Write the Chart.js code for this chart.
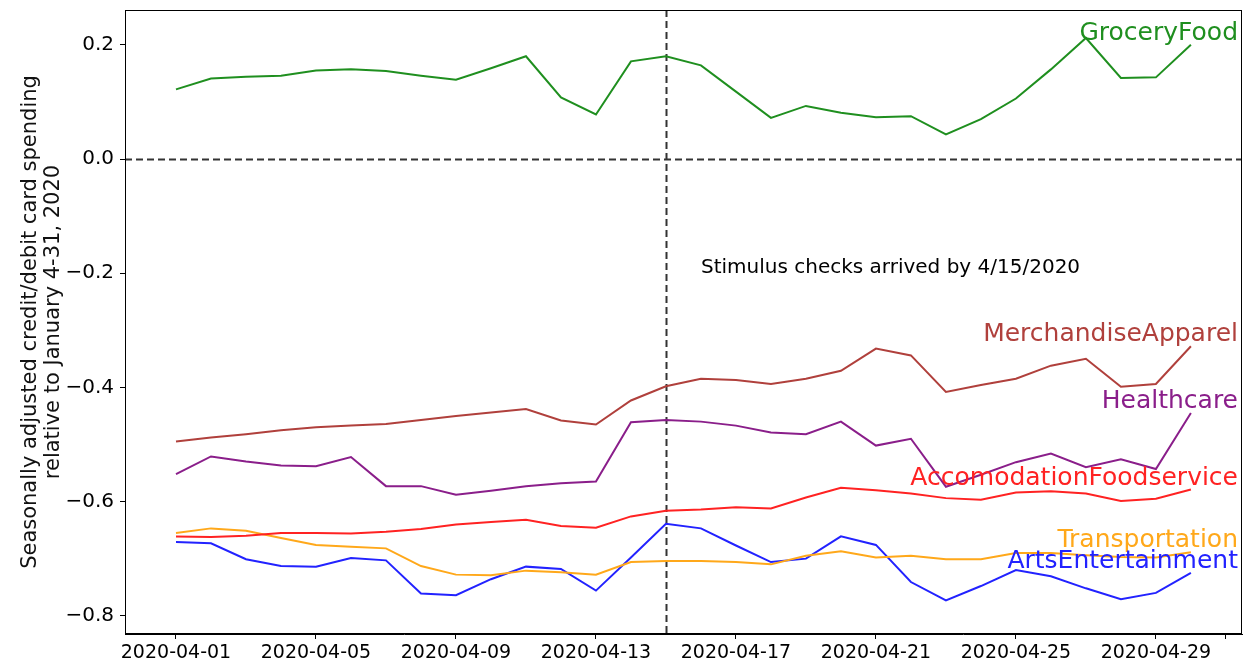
<!DOCTYPE html>
<html>
<head>
<meta charset="utf-8">
<script src="https://cdn.jsdelivr.net/npm/chart.js@4"></script>
<style>
  html, body { margin: 0; padding: 0; background: #fff; }
  #wrap { width: 1247px; height: 664px; }
</style>
</head>
<body>
<div id="wrap"><canvas id="c" width="1247" height="664"></canvas></div>
<script>
// ---- data ----
const dates = ['2020-04-01','2020-04-02','2020-04-03','2020-04-04','2020-04-05','2020-04-06','2020-04-07','2020-04-08','2020-04-09','2020-04-10',
               '2020-04-11','2020-04-12','2020-04-13','2020-04-14','2020-04-15','2020-04-16','2020-04-17','2020-04-18','2020-04-19','2020-04-20',
               '2020-04-21','2020-04-22','2020-04-23','2020-04-24','2020-04-25','2020-04-26','2020-04-27','2020-04-28','2020-04-29','2020-04-30'];
const groceryFood = [0.122,0.141,0.144,0.146,0.155,0.157,0.154,0.146,0.139,0.159,0.180,0.108,0.078,0.171,0.180,
                     0.164,0.118,0.072,0.093,0.081,0.073,0.075,0.043,0.070,0.106,0.157,0.212,0.142,0.143,0.200];
const merchandiseApparel = [-0.495,-0.488,-0.482,-0.475,-0.470,-0.467,-0.464,-0.457,-0.450,-0.444,-0.438,-0.458,-0.465,-0.423,-0.398,
                            -0.385,-0.387,-0.394,-0.385,-0.371,-0.332,-0.344,-0.408,-0.396,-0.385,-0.362,-0.350,-0.399,-0.394,-0.328];
const healthcare = [-0.552,-0.521,-0.530,-0.537,-0.538,-0.522,-0.573,-0.573,-0.588,-0.581,-0.573,-0.568,-0.565,-0.461,-0.457,
                    -0.460,-0.467,-0.479,-0.482,-0.460,-0.502,-0.490,-0.574,-0.553,-0.531,-0.516,-0.540,-0.526,-0.543,-0.445];
const accomodationFoodservice = [-0.661,-0.662,-0.660,-0.655,-0.655,-0.656,-0.653,-0.648,-0.640,-0.636,-0.632,-0.643,-0.646,-0.626,-0.616,
                                 -0.614,-0.610,-0.612,-0.593,-0.576,-0.580,-0.586,-0.594,-0.597,-0.584,-0.582,-0.586,-0.599,-0.595,-0.579];
const transportation = [-0.655,-0.647,-0.651,-0.664,-0.676,-0.679,-0.682,-0.713,-0.728,-0.729,-0.721,-0.724,-0.728,-0.706,-0.704,
                        -0.704,-0.706,-0.710,-0.695,-0.687,-0.698,-0.695,-0.701,-0.701,-0.690,-0.690,-0.694,-0.697,-0.698,-0.689];
const artsEntertainment = [-0.671,-0.673,-0.701,-0.713,-0.714,-0.699,-0.703,-0.761,-0.764,-0.736,-0.714,-0.718,-0.756,-0.698,-0.639,
                           -0.647,-0.677,-0.706,-0.700,-0.661,-0.676,-0.741,-0.773,-0.748,-0.720,-0.731,-0.752,-0.771,-0.760,-0.725];
const seriesNames = ['GroceryFood','MerchandiseApparel','Healthcare','AccomodationFoodservice','Transportation','ArtsEntertainment'];
const xTickIndex = [0,4,8,12,16,20,24,28,30];
const xTickLabels = ['2020-04-01','2020-04-05','2020-04-09','2020-04-13','2020-04-17','2020-04-21','2020-04-25','2020-04-29',''];
const yTicks = [0.2,0.0,-0.2,-0.4,-0.6,-0.8];
const stimulusIndex = 14;
const annotationText = 'Stimulus checks arrived by 4/15/2020';
const annotationPos = [15, -0.19];
const yTitle = ['Seasonally adjusted credit/debit card spending', 'relative to January 4-31, 2020'];

// ---- styles ----
const FONT = '"DejaVu Sans", sans-serif';
const colors = ['#1f8f1f', '#b0403c', '#8a1e8a', '#ff2222', '#ffa81a', '#2222ff'];
const allSeries = [groceryFood, merchandiseApparel, healthcare, accomodationFoodservice, transportation, artsEntertainment];

const datasets = allSeries.map((arr, k) => ({
  label: seriesNames[k],
  data: arr.map((v, i) => ({ x: i, y: v })),
  borderColor: colors[k],
  borderWidth: 2,
  pointRadius: 0,
  tension: 0,
  fill: false
}));

const overlay = {
  id: 'overlay',
  beforeDatasetsDraw(chart) {
    const { ctx, chartArea: a, scales: { x, y } } = chart;
    ctx.save();
    ctx.strokeStyle = '#333';
    ctx.lineWidth = 2;
    ctx.setLineDash([7, 4]);
    const y0 = Math.round(y.getPixelForValue(0)) + 0.5;
    ctx.beginPath(); ctx.moveTo(a.left, y0); ctx.lineTo(a.right, y0); ctx.stroke();
    const xs = Math.round(x.getPixelForValue(stimulusIndex)) + 0.5;
    ctx.beginPath(); ctx.moveTo(xs, a.top); ctx.lineTo(xs, a.bottom); ctx.stroke();
    ctx.restore();
  },
  afterDatasetsDraw(chart) {
    const { ctx, chartArea: a, scales: { x, y } } = chart;
    ctx.save();
    // frame
    ctx.strokeStyle = '#000';
    ctx.lineWidth = 1;
    ctx.strokeRect(a.left + 0.5, a.top + 0.5, a.right - a.left - 1, a.bottom - a.top - 1);
    // series labels
    ctx.font = '25px ' + FONT;
    ctx.textAlign = 'right';
    ctx.textBaseline = 'alphabetic';
    allSeries.forEach((arr, k) => {
      ctx.fillStyle = colors[k];
      ctx.fillText(seriesNames[k], a.right - 4, y.getPixelForValue(arr[arr.length - 1]) - 5);
    });
    // annotation
    ctx.font = '20px ' + FONT;
    ctx.fillStyle = '#000';
    ctx.textAlign = 'left';
    ctx.textBaseline = 'middle';
    ctx.fillText(annotationText, x.getPixelForValue(annotationPos[0]), y.getPixelForValue(annotationPos[1]));
    // y title
    ctx.font = '21px ' + FONT;
    ctx.fillStyle = '#111';
    ctx.textAlign = 'center';
    ctx.textBaseline = 'middle';
    const cy = (a.top + a.bottom) / 2;
    ctx.translate(31, cy);
    ctx.rotate(-Math.PI / 2);
    ctx.fillText(yTitle[0], 0, 0);
    ctx.fillText(yTitle[1], 0, 23);
    ctx.restore();
  }
};

new Chart(document.getElementById('c'), {
  type: 'line',
  data: { datasets },
  options: {
    responsive: false,
    animation: false,
    devicePixelRatio: 1,
    layout: { padding: { top: 10, right: 5, left: 0, bottom: 0 } },
    plugins: { legend: { display: false }, tooltip: { enabled: false } },
    scales: {
      x: {
        type: 'linear',
        min: -1.457,
        max: 30.46,
        afterBuildTicks(s) { s.ticks = xTickIndex.map(v => ({ value: v })); },
        afterFit(s) { s.height = 30; s.paddingLeft = 0; s.paddingRight = 0; },
        ticks: {
          autoSkip: false, maxRotation: 0, color: '#000', padding: 3,
          font: { family: FONT, size: 19 },
          callback(v) { const i = xTickIndex.indexOf(v); return i >= 0 ? xTickLabels[i] : ''; }
        },
        grid: { drawOnChartArea: false, drawTicks: true, tickLength: 5, color: '#000' },
        border: { display: true, color: '#000', width: 1 }
      },
      y: {
        min: -0.832,
        max: 0.261,
        afterBuildTicks(s) { s.ticks = yTicks.map(v => ({ value: v })); },
        afterFit(s) { s.width = 125; s.paddingTop = 0; s.paddingBottom = 0; },
        ticks: {
          color: '#000', padding: 6,
          font: { family: FONT, size: 20 },
          callback(v) { return v.toFixed(1).replace('-', '\u2212'); }
        },
        grid: { drawOnChartArea: false, drawTicks: true, tickLength: 5, color: '#000' },
        border: { display: true, color: '#000', width: 1 }
      }
    }
  },
  plugins: [overlay]
});
</script>
</body>
</html>
